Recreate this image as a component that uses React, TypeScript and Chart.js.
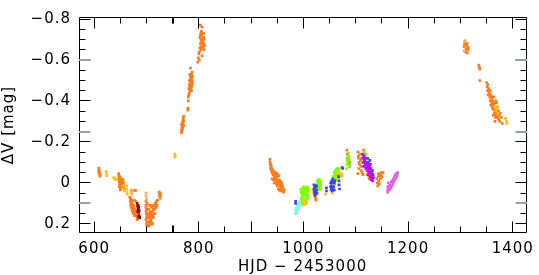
import React, { useEffect, useRef } from 'react';
import { Chart, registerables } from 'chart.js';
Chart.register(...registerables);

const xMajorTicks = [600, 800, 1000, 1200, 1400];
const xTickLabels = ['600', '800', '1000', '1200', '1400'];
const yMajorTicks = [-0.8, -0.6, -0.4, -0.2, 0, 0.2];
const yTickLabels = ['\u22120.8', '\u22120.6', '\u22120.4', '\u22120.2', '0', '0.2'];
const xMin = 571;
const xMax = 1426;
const yMin = -0.81;
const yMax = 0.245;
const grayMarksY = [-0.6, -0.25, 0.1];
const xTitle = 'HJD \u2212 2453000';
const yTitle = '\u0394V [mag]';

type P = [number, number];

const orangePts: P[] = [
  [609, -0.072], [609, -0.062], [610, -0.055], [610, -0.047], [611, -0.04], [611, -0.033], [609, -0.05],
  [647, -0.045], [647, -0.035], [648, -0.025], [648, -0.015], [648, -0.005], [649, 0.005], [649, 0.015], [650, 0.025], [650, 0.035], [647, -0.02], [649, -0.03], [650, 0.0], [648, 0.02], [650, -0.01],
  [653, -0.02], [654, -0.01], [654, 0.0], [655, 0.01], [656, 0.02], [657, 0.03], [655, -0.015], [653, 0.005], [656, 0.0],
  [676, 0.037], [679, 0.037], [677, 0.085], [679, 0.09],
  [668, 0.07], [669, 0.08], [669, 0.09], [670, 0.1], [670, 0.11], [671, 0.12], [672, 0.085], [672, 0.095], [673, 0.105], [674, 0.115], [674, 0.125], [675, 0.13], [676, 0.12], [676, 0.14], [677, 0.135], [678, 0.15], [679, 0.145], [680, 0.155], [681, 0.16], [682, 0.165], [683, 0.17], [684, 0.175], [686, 0.17], [673, 0.14], [677, 0.16],
  [671, 0.095], [673, 0.12], [675, 0.11], [675, 0.15], [678, 0.13], [680, 0.14], [682, 0.18], [670, 0.08], [672, 0.13],
  [699, 0.09], [699, 0.11], [700, 0.13], [700, 0.15], [700, 0.17], [701, 0.19], [701, 0.21], [699, 0.12], [700, 0.2], [701, 0.16], [699, 0.14], [699, 0.18], [701, 0.1],
  [704, 0.13], [704, 0.15], [705, 0.17], [705, 0.19], [706, 0.2], [707, 0.14], [708, 0.16], [708, 0.18], [709, 0.19], [710, 0.12], [711, 0.14], [712, 0.16], [713, 0.17], [714, 0.11], [715, 0.13], [716, 0.15], [717, 0.1], [718, 0.12], [719, 0.09], [720, 0.11], [721, 0.085], [706, 0.11], [712, 0.2],
  [704, 0.17], [706, 0.16], [707, 0.18], [709, 0.15], [710, 0.17], [711, 0.11], [713, 0.13], [714, 0.15], [716, 0.12], [718, 0.1], [705, 0.21], [709, 0.2],
  [724, 0.045], [725, 0.055], [725, 0.065], [726, 0.075], [726, 0.05], [727, 0.06],
  [767, -0.245], [767, -0.255], [768, -0.265], [768, -0.275], [769, -0.285], [769, -0.295], [770, -0.305], [770, -0.315], [771, -0.325], [768, -0.26], [769, -0.27], [771, -0.3], [770, -0.28], [767, -0.285], [771, -0.28],
  [779, -0.355], [779, -0.365], [780, -0.4], [781, -0.43], [781, -0.46], [782, -0.48], [783, -0.5], [783, -0.45], [784, -0.47], [784, -0.52], [785, -0.49], [785, -0.51], [786, -0.53], [786, -0.47], [787, -0.5], [787, -0.54], [788, -0.52], [784, -0.56], [782, -0.44], [780, -0.42], [786, -0.45], [783, -0.53],
  [782, -0.5], [784, -0.49], [785, -0.46], [787, -0.48], [786, -0.51], [783, -0.47], [788, -0.49],
  [798, -0.59], [799, -0.61], [800, -0.63], [801, -0.64], [802, -0.66], [803, -0.68], [804, -0.7], [805, -0.72], [805, -0.74], [806, -0.76], [803, -0.77], [804, -0.65], [806, -0.67], [807, -0.69], [808, -0.71], [808, -0.66], [809, -0.68], [810, -0.7], [810, -0.65], [811, -0.67], [807, -0.73], [809, -0.73], [806, -0.62], [801, -0.6], [802, -0.71], [805, -0.66],
  [804, -0.73], [806, -0.7], [808, -0.68], [803, -0.72], [807, -0.66], [809, -0.71], [805, -0.69],
  [936, -0.115], [936, -0.1], [937, -0.085], [937, -0.07], [938, -0.09], [939, -0.06], [939, -0.075], [940, -0.05], [941, -0.065], [942, -0.04], [943, -0.055], [944, -0.03], [945, -0.045], [946, -0.02], [947, -0.035], [948, -0.025], [949, -0.01], [950, -0.03], [951, -0.005], [952, 0.005], [953, -0.015], [954, 0.01], [955, 0.02], [956, -0.005], [957, 0.015], [958, 0.03], [959, 0.01], [960, 0.04], [961, 0.025], [962, 0.045], [963, 0.035], [944, 0.0], [948, 0.005], [952, 0.03], [956, 0.04], [940, -0.02],
  [946, -0.05], [950, -0.045], [953, -0.035], [955, -0.01], [958, 0.0], [950, 0.015], [947, -0.01], [954, 0.035], [960, 0.02], [942, -0.015],
  [1020, 0.045], [1021, 0.055], [1022, 0.065], [1023, 0.075], [1024, 0.085], [1022, 0.05], [1023, 0.06],
  [1083, -0.16], [1084, -0.14], [1085, -0.12], [1086, -0.1], [1087, -0.09], [1088, -0.08], [1084, -0.11], [1086, -0.13], [1088, -0.1],
  [1104, -0.15], [1105, -0.13], [1105, -0.12], [1106, -0.1], [1107, -0.09], [1108, -0.14], [1109, -0.11], [1110, -0.08], [1110, -0.06], [1111, -0.12], [1112, -0.05], [1113, -0.1], [1114, -0.04], [1106, -0.07], [1104, -0.045], [1115, -0.16], [1116, -0.14],
  [1120, -0.08], [1121, -0.06], [1122, -0.04], [1123, -0.07], [1124, -0.05], [1125, -0.03], [1126, -0.02],
  [1140, -0.02], [1141, 0.0], [1142, 0.015], [1143, -0.03], [1144, -0.01], [1145, 0.005], [1146, -0.04], [1147, -0.02], [1148, -0.035], [1149, -0.05], [1150, -0.03], [1152, -0.05], [1143, -0.045],
  [1307, -0.665], [1308, -0.68], [1310, -0.64], [1311, -0.655], [1312, -0.67], [1313, -0.635], [1314, -0.65], [1313, -0.68], [1315, -0.66],
  [1335, -0.575], [1336, -0.565], [1337, -0.555], [1337, -0.5],
  [1350, -0.49], [1351, -0.47], [1352, -0.45], [1352, -0.48], [1353, -0.43], [1354, -0.46], [1355, -0.44], [1356, -0.42], [1357, -0.4], [1357, -0.45], [1358, -0.43], [1359, -0.41], [1360, -0.39], [1360, -0.42], [1361, -0.37], [1362, -0.4], [1363, -0.38], [1364, -0.36], [1365, -0.39], [1366, -0.35], [1367, -0.37], [1368, -0.33], [1369, -0.36], [1370, -0.34], [1371, -0.32], [1372, -0.35], [1373, -0.31], [1374, -0.33], [1375, -0.3], [1378, -0.32], [1380, -0.29], [1364, -0.42], [1368, -0.4], [1366, -0.3],
  [1362, -0.36], [1365, -0.34], [1367, -0.32], [1369, -0.39], [1371, -0.37], [1373, -0.35], [1376, -0.34], [1358, -0.38], [1363, -0.33],
];

const peachPts: P[] = [
  [670, 0.035], [671, 0.045], [672, 0.055], [673, 0.04], [699, 0.05], [699, 0.065], [700, 0.08],
  [1308, -0.69], [1309, -0.695], [1307, -0.645],
];

const goldPts: P[] = [
  [623, -0.055], [623, -0.045], [624, -0.035], [637, -0.025], [639, -0.02], [641, -0.015], [643, -0.02], [639, -0.025],
  [657, 0.01], [658, 0.025], [658, 0.04], [662, 0.015], [662, 0.03], [663, 0.045], [663, 0.055],
  [754, -0.14], [754, -0.125], [755, -0.13],
  [999, 0.085], [1001, 0.095], [1003, 0.105], [1005, 0.09], [1006, 0.1], [1018, 0.035], [1019, 0.05], [1021, 0.04],
  [1042, 0.055], [1055, 0.05], [1066, -0.05], [1068, -0.04], [1070, -0.03], [1072, -0.045], [1074, -0.035],
  [1366, -0.37], [1368, -0.35], [1370, -0.365], [1372, -0.34], [1386, -0.315], [1388, -0.3], [1389, -0.29],
];

const darkRedPts: P[] = [
  [682, 0.1], [683, 0.115], [684, 0.13], [685, 0.145], [686, 0.16], [687, 0.17], [684, 0.11], [686, 0.135], [685, 0.165], [683, 0.14], [685, 0.12],
];

const greenPts: P[] = [
  [995, 0.03], [996, 0.05], [997, 0.07], [998, 0.09], [999, 0.105], [1000, 0.02], [1001, 0.04], [1002, 0.06], [1003, 0.08], [1004, 0.025], [1005, 0.045], [1006, 0.065], [1007, 0.02], [1008, 0.04], [1009, 0.06], [1004, 0.1], [997, 0.03], [1001, 0.085],
  [996, 0.04], [996, 0.08], [998, 0.03], [998, 0.06], [1000, 0.05], [1000, 0.08], [1002, 0.03], [1002, 0.09], [1004, 0.06], [1006, 0.03], [1006, 0.085], [1008, 0.075], [1009, 0.03], [997, 0.1], [999, 0.06], [1003, 0.045], [1007, 0.05],
  [1026, -0.01], [1027, 0.005], [1028, 0.02], [1029, 0.035], [1030, -0.015], [1031, 0.0], [1032, 0.015], [1033, 0.03], [1028, -0.005],
  [1026, 0.02], [1027, 0.03], [1029, 0.0], [1030, 0.02], [1031, 0.03], [1032, -0.01], [1033, 0.005], [1029, -0.015],
  [1056, -0.01], [1057, 0.01], [1058, -0.03], [1059, -0.05], [1060, -0.02], [1061, -0.06], [1062, -0.04], [1063, -0.065], [1064, -0.05], [1065, -0.07], [1066, -0.06], [1068, -0.07], [1058, 0.0], [1062, -0.015],
  [1057, -0.03], [1059, -0.02], [1060, -0.045], [1061, -0.03], [1063, -0.04], [1064, -0.065], [1066, -0.04], [1067, -0.055], [1060, 0.005], [1065, -0.02],
  [1082, -0.07], [1083, -0.09], [1084, -0.11], [1085, -0.13], [1086, -0.145], [1087, -0.08], [1085, -0.095], [1083, -0.12], [1087, -0.115],
  [1117, -0.15], [1118, -0.13], [1119, -0.11], [1120, -0.09], [1121, -0.12], [1122, -0.08], [1119, -0.14],
];

const cyanPts: P[] = [
  [985, 0.15], [985, 0.135], [986, 0.125], [987, 0.14], [988, 0.115], [989, 0.13], [990, 0.105], [991, 0.12], [992, 0.095], [993, 0.11], [987, 0.15], [995, 0.09], [997, 0.08],
  [986, 0.145], [988, 0.13], [990, 0.125], [992, 0.11],
];

const bluePts: P[] = [
  [985, 0.09], [985, 0.1],
  [1020, 0.01], [1021, 0.025], [1022, 0.04], [1023, 0.055], [1024, 0.02], [1025, 0.035], [1026, 0.05], [1022, 0.06],
  [1020, 0.03], [1021, 0.045], [1023, 0.015], [1024, 0.045], [1025, 0.015],
  [1044, 0.025], [1044, 0.04],
  [1052, 0.0], [1053, 0.015], [1054, 0.03], [1055, 0.04], [1056, -0.02], [1057, -0.005], [1058, 0.02], [1059, 0.035], [1060, -0.01],
  [1052, 0.02], [1053, 0.035], [1055, 0.0], [1056, 0.02], [1057, 0.035], [1059, 0.0], [1054, -0.01],
  [1067, -0.03], [1068, -0.01], [1068, 0.01], [1069, 0.03], [1074, -0.075], [1075, -0.07],
  [1123, -0.12], [1124, -0.1], [1125, -0.08], [1126, -0.06], [1127, -0.11], [1128, -0.09], [1129, -0.07], [1130, -0.05], [1131, -0.03], [1132, -0.06], [1133, -0.04], [1134, -0.025],
];

const purplePts: P[] = [
  [1113, -0.14], [1114, -0.12], [1115, -0.1], [1116, -0.13], [1117, -0.11], [1118, -0.09], [1119, -0.07], [1120, -0.12], [1121, -0.1], [1122, -0.08], [1123, -0.06], [1124, -0.04], [1125, -0.09], [1126, -0.07], [1127, -0.05], [1128, -0.03], [1129, -0.015], [1130, -0.04], [1131, -0.02], [1132, -0.01], [1115, -0.08], [1118, -0.12],
  [1114, -0.135], [1116, -0.11], [1119, -0.095], [1121, -0.075], [1123, -0.09], [1125, -0.055], [1127, -0.075], [1129, -0.045], [1131, -0.035],
];

const pinkPts: P[] = [
  [1161, 0.02], [1161, 0.035], [1161, 0.045], [1162, 0.0], [1163, 0.03], [1164, 0.015], [1165, 0.035], [1166, 0.01], [1167, 0.025], [1168, -0.005], [1169, 0.015], [1170, -0.01], [1171, 0.005], [1172, -0.02], [1173, -0.005], [1174, -0.03], [1175, -0.015], [1176, -0.04], [1177, -0.025], [1178, -0.045], [1179, -0.035], [1180, -0.05],
];

const FONT = 'DejaVu Sans';

const framePlugin = {
  id: 'frameTicks',
  beforeDraw(chart: any) {
    chart.ctx.letterSpacing = '1px';
  },
  afterDraw(chart: any) {
    const { ctx, chartArea: a } = chart;
    const xs = chart.scales.x;
    const ys = chart.scales.y;
    const L = Math.floor(a.left) + 0.5;
    const R = Math.ceil(a.right) - 0.5;
    const T = Math.floor(a.top) + 0.5;
    const B = Math.ceil(a.bottom) - 0.5;
    ctx.save();
    ctx.strokeStyle = '#000';
    ctx.lineWidth = 1;
    ctx.beginPath();
    ctx.rect(L, T, R - L, B - T);
    for (let k = 12; k <= 28; k++) {
      const v = k * 50;
      const len = xMajorTicks.includes(v) ? 11 : 6;
      const px = Math.floor(xs.getPixelForValue(v)) + 0.5;
      ctx.moveTo(px, B); ctx.lineTo(px, B - len);
      ctx.moveTo(px, T); ctx.lineTo(px, T + len);
    }
    for (let k = -16; k <= 4; k++) {
      const v = k * 0.05;
      const major = k % 4 === 0;
      const len = major ? 11 : 6;
      const py = Math.floor(ys.getPixelForValue(v)) + 0.5;
      ctx.moveTo(L, py); ctx.lineTo(L + len, py);
      ctx.moveTo(R, py); ctx.lineTo(R - len, py);
    }
    ctx.stroke();
    ctx.beginPath();
    const p750 = Math.floor(xs.getPixelForValue(750)) + 1;
    ctx.lineWidth = 2;
    ctx.moveTo(p750, B); ctx.lineTo(p750, B - 7);
    ctx.moveTo(p750, T); ctx.lineTo(p750, T + 6);
    ctx.stroke();
    ctx.lineWidth = 1;
    ctx.beginPath();
    const p900 = Math.floor(xs.getPixelForValue(900)) + 0.5;
    ctx.moveTo(p900, B); ctx.lineTo(p900, B - 11);
    ctx.stroke();
    ctx.strokeStyle = '#98a3a8';
    ctx.lineWidth = 2;
    ctx.beginPath();
    for (const v of grayMarksY) {
      const py = Math.round(ys.getPixelForValue(v));
      ctx.moveTo(L - 0.5, py); ctx.lineTo(L + 11, py);
      ctx.moveTo(R + 0.5, py); ctx.lineTo(R - 11, py);
    }
    ctx.stroke();
    ctx.restore();
  },
};

function toData(pts: P[]) {
  return pts.map(([x, y]) => ({ x, y }));
}

export default function App() {
  const ref = useRef<HTMLCanvasElement | null>(null);
  useEffect(() => {
    if (!ref.current) return;
    const groups: { pts: P[]; color: string }[] = [
      { pts: pinkPts, color: '#e45ee0' },
      { pts: purplePts, color: '#c800ff' },
      { pts: bluePts, color: '#3f3fff' },
      { pts: darkRedPts, color: '#9c0000' },
      { pts: goldPts, color: '#ffc21a' },
      { pts: greenPts, color: '#7dff00' },
      { pts: cyanPts, color: '#7ffbe0' },
      { pts: peachPts, color: '#ffa860' },
      { pts: orangePts, color: '#ff7a1c' },
    ];
    const chart = new Chart(ref.current, {
      type: 'scatter',
      data: {
        datasets: groups.map((g) => ({
          data: toData(g.pts),
          backgroundColor: g.color,
          borderWidth: 0,
          pointStyle: 'rect',
          pointRadius: 1.9,
        })),
      },
      options: {
        responsive: false,
        animation: false,
        events: [],
        layout: { padding: { left: 0, top: 5, right: 6, bottom: 0 } },
        plugins: { legend: { display: false }, tooltip: { enabled: false } },
        scales: {
          x: {
            type: 'linear',
            position: 'bottom',
            min: xMin,
            max: xMax,
            afterBuildTicks: (s: any) => { s.ticks = xMajorTicks.map((value) => ({ value })); },
            afterFit: (s: any) => { s.height = 42; },
            grid: { display: false, drawTicks: false },
            border: { display: false },
            ticks: {
              autoSkip: false,
              maxRotation: 0,
              padding: 7,
              color: '#000',
              font: { family: FONT, size: 15, lineHeight: 1.2 },
              callback: (v: any) => xTickLabels[xMajorTicks.indexOf(Number(v))] ?? '',
            },
            title: {
              display: true,
              text: xTitle,
              color: '#000',
              font: { family: FONT, size: 15, lineHeight: 1 },
              padding: { top: 0, bottom: 0 },
            },
          },
          y: {
            type: 'linear',
            reverse: true,
            min: yMin,
            max: yMax,
            afterBuildTicks: (s: any) => { s.ticks = yMajorTicks.map((value) => ({ value })); },
            afterFit: (s: any) => { s.width = 79; },
            grid: { display: false, drawTicks: false },
            border: { display: false },
            ticks: {
              autoSkip: false,
              padding: 8,
              color: '#000',
              font: { family: FONT, size: 15, lineHeight: 1.2 },
              callback: (v: any) => {
                const i = yMajorTicks.findIndex((t) => Math.abs(t - Number(v)) < 1e-6);
                return i >= 0 ? yTickLabels[i] : '';
              },
            },
            title: {
              display: true,
              text: yTitle,
              color: '#000',
              font: { family: FONT, size: 15, lineHeight: 1 },
              padding: { top: 1.5, bottom: 0 },
            },
          },
        },
      },
      plugins: [framePlugin],
    } as any);
    return () => chart.destroy();
  }, []);
  return (
    <div style={{ position: 'fixed', left: 0, top: 0, width: 539, height: 275, background: '#fff' }}>
      <canvas ref={ref} width={539} height={275} style={{ display: 'block', width: 539, height: 275 }} />
    </div>
  );
}
